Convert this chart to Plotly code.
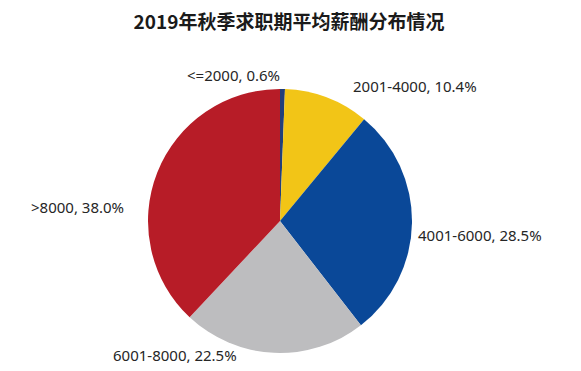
import plotly.graph_objects as go

labels = ["<=2000", "2001-4000", "4001-6000", "6001-8000", ">8000"]
values = [0.6, 10.4, 28.5, 22.5, 38.0]
colors = ["#233f7a", "#f2c517", "#0a4898", "#bdbdbf", "#b71c27"]
title = "2019年秋季求职期平均薪酬分布情况"

# label centre positions in pixels (layout only), same order as labels
label_px = [(233, 75), (415, 86), (480, 235), (175, 355), (77, 207)]

W, H = 581, 371
texts = [f"{l}, {v:.1f}%" for l, v in zip(labels, values)]

cx, cy, r = 280, 221, 132
fig = go.Figure(go.Pie(
    labels=labels,
    values=values,
    textinfo="none",
    sort=False,
    direction="clockwise",
    rotation=0,
    marker=dict(colors=colors, line=dict(width=0)),
    domain=dict(x=[(cx - r) / W, (cx + r) / W], y=[1 - (cy + r) / H, 1 - (cy - r) / H]),
    automargin=False,
    showlegend=False,
    hoverinfo="skip",
))

for t, (px, py) in zip(texts, label_px):
    fig.add_annotation(
        text=t, x=px / W, y=1 - py / H, xref="paper", yref="paper",
        xanchor="center", yanchor="middle", showarrow=False,
        font=dict(size=15, color="#262626", family="Noto Sans"),
    )

fig.update_layout(
    width=W, height=H,
    margin=dict(l=0, r=0, t=0, b=0),
    paper_bgcolor="white",
    plot_bgcolor="white",
    title=dict(text=f"<b>{title}</b>", x=289 / W, xanchor="center", y=1 - 22 / H, yanchor="middle",
               font=dict(size=19, color="#1a1a1a", family="Noto Sans CJK SC")),
)

fig.write_html("out.html", config={"displayModeBar": False},
               post_script="document.body.style.margin='0px';document.body.style.padding='0px';")
